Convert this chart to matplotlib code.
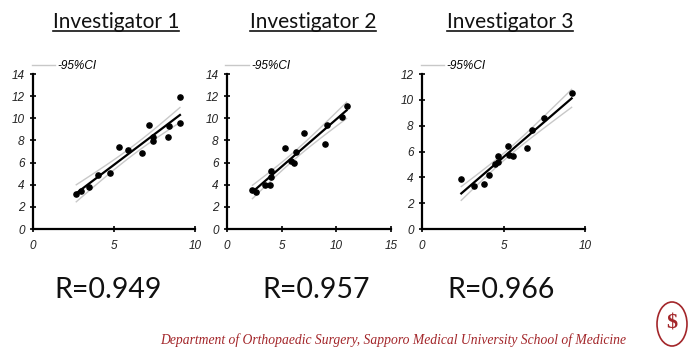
import numpy as np
import matplotlib.pyplot as plt
from matplotlib.lines import Line2D
from matplotlib.patches import Ellipse

# data
inv1_x = [2.67, 2.98, 3.46, 4.0, 4.77, 5.3, 5.86, 6.75, 7.14, 7.43, 7.43, 8.31, 8.37, 9.07, 9.07]
inv1_y = [3.13, 3.46, 3.8, 4.9, 5.03, 7.4, 7.14, 6.84, 9.4, 8.28, 7.98, 8.31, 9.3, 11.9, 9.6]

inv2_x = [2.33, 2.67, 3.48, 3.94, 4.03, 4.03, 5.3, 5.82, 6.15, 6.3, 7.03, 8.94, 9.18, 10.5, 10.94]
inv2_y = [3.51, 3.36, 3.93, 3.93, 4.7, 5.27, 7.29, 6.13, 5.95, 6.93, 8.66, 7.68, 9.35, 10.15, 11.07]

inv3_x = [2.41, 3.16, 3.78, 4.1, 4.49, 4.65, 4.69, 5.27, 5.31, 5.61, 6.43, 6.73, 7.49, 9.18]
inv3_y = [3.85, 3.31, 3.52, 4.2, 5.04, 5.66, 5.17, 6.39, 5.73, 5.68, 6.29, 7.64, 8.56, 10.52]

titles = ["Investigator 1", "Investigator 2", "Investigator 3"]
r_labels = ["R=0.949", "R=0.957", "R=0.966"]
x_limits = [10, 15, 10]
y_limits = [14, 14, 12]
x_ticks = [[0, 5, 10], [0, 5, 10, 15], [0, 5, 10]]
footer = "Department of Orthopaedic Surgery, Sapporo Medical University School of Medicine"

# two-sided 95% t values by degrees of freedom
t95 = {12: 2.179, 13: 2.160}

fig = plt.figure(figsize=(6.91, 3.5), dpi=100)
lefts = [33, 227, 422]
widths = [162, 164, 163]
title_cx = [116, 313, 510]
r_cx = [108, 316, 501]

datasets = [(inv1_x, inv1_y), (inv2_x, inv2_y), (inv3_x, inv3_y)]
for i, (xs, ys) in enumerate(datasets):
    ax = fig.add_axes([lefts[i] / 691, 121 / 350, widths[i] / 691, 155 / 350])
    x = np.array(xs)
    y = np.array(ys)
    n = len(x)
    b, a = np.polyfit(x, y, 1)
    xx = np.linspace(x.min(), x.max(), 50)
    yy = a + b * xx
    s = np.sqrt(np.sum((y - (a + b * x)) ** 2) / (n - 2))
    sxx = np.sum((x - x.mean()) ** 2)
    half = 0.85 * t95[n - 2] * s * np.sqrt(1 / n + (xx - x.mean()) ** 2 / sxx)

    ax.plot(xx, yy + half, color='#c8c8c8', lw=1.0)
    ax.plot(xx, yy - half, color='#c8c8c8', lw=1.0)
    ax.plot(xx, yy, color='black', lw=1.6)
    ax.scatter(x, y, s=14, color='black', zorder=3)

    ax.set_xlim(0, x_limits[i])
    ax.set_ylim(0, y_limits[i])
    yt = list(range(0, y_limits[i] + 1, 2))
    ax.set_xticks(x_ticks[i], [str(v) for v in x_ticks[i]], fontstyle='italic',
                  family='Liberation Sans', fontsize=8.5, color='#222222')
    ax.set_yticks(yt, [str(v) for v in yt], fontstyle='italic',
                  family='Liberation Sans', fontsize=8.5, color='#222222')
    for sp in ['top', 'right']:
        ax.spines[sp].set_visible(False)
    for sp in ['left', 'bottom']:
        ax.spines[sp].set_linewidth(1.6)
    ax.tick_params(axis='both', direction='inout', length=4, width=1.2, pad=4)
    ax.tick_params(axis='x', pad=6)

    h = Line2D([], [], color='#c8c8c8', lw=1.0)
    ax.legend([h], ['-95%CI'], loc='lower left', bbox_to_anchor=(-0.02, 1.0),
              frameon=False, borderpad=0, borderaxespad=0.15, handlelength=2.0,
              handletextpad=0.2, prop={'style': 'italic', 'size': 8.5,
                                       'family': 'Liberation Sans'})

    fig.text(title_cx[i] / 691, 1 - 22 / 350, titles[i], ha='center', va='center',
             fontsize=15, family='Lato', color='#111111')
    fig.text(r_cx[i] / 691, 1 - 290 / 350, r_labels[i], ha='center', va='center',
             fontsize=20.5, family='Lato', color='#111111')

fig.text(393 / 691, 1 - 340 / 350, footer, ha='center', va='center',
         fontsize=9.8, family='Liberation Serif', style='italic', color='#a3262a')

# small emblem in the corner
fig.add_artist(Ellipse((672 / 691, 1 - 324 / 350), 30 / 691, 44 / 350,
                       transform=fig.transFigure, fill=False, ec='#a3262a', lw=1.2))
fig.text(672 / 691, 1 - 324 / 350, '$', ha='center', va='center', fontsize=16,
         family='Liberation Serif', color='#a3262a', fontweight='bold')

# underline the titles
fig.canvas.draw()
for t in fig.texts[:6:2]:
    bb = t.get_window_extent()
    yline = bb.y0 + 1
    fig.add_artist(Line2D([bb.x0 / 691, bb.x1 / 691], [yline / 350, yline / 350],
                          transform=fig.transFigure, color='#111111', lw=1.2))

fig.savefig('out.png', dpi=100, facecolor='white')
